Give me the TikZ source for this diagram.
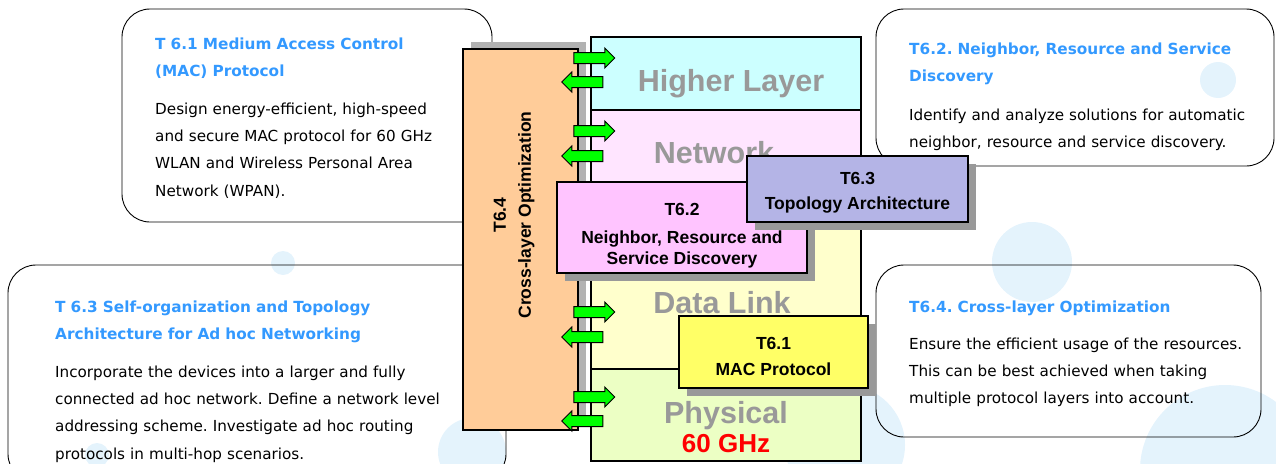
\documentclass[tikz,border=0pt]{standalone}
\usepackage{fontspec}
\setmainfont{Liberation Sans}
\newfontfamily\calloutfont{DejaVu Sans}
\usetikzlibrary{shapes.arrows,shadows}
\frenchspacing

\definecolor{titleblue}{RGB}{51,153,255}
\definecolor{bubble}{RGB}{228,243,252}
\definecolor{higherfill}{RGB}{204,255,255}
\definecolor{networkfill}{RGB}{255,229,255}
\definecolor{datalinkfill}{RGB}{255,255,204}
\definecolor{physicalfill}{RGB}{236,255,196}
\definecolor{discpink}{RGB}{255,196,255}
\definecolor{topolilac}{RGB}{180,180,230}
\definecolor{macyellow}{RGB}{255,255,102}
\definecolor{crossorange}{RGB}{255,204,153}
\definecolor{shadowgray}{RGB}{153,153,153}
\definecolor{bargray}{RGB}{178,178,178}
\definecolor{arrowgreen}{RGB}{0,255,0}
\definecolor{layergray}{RGB}{153,153,153}
\definecolor{ghzred}{RGB}{255,0,0}

\newcommand{\tasktop}[1]{\rule{0pt}{#1}}

\tikzset{
  callout/.style={draw, line width=0.9pt, rounded corners=28pt},
  cotitle/.style={anchor=base west, inner sep=0pt, text width=460pt, align=left, text=titleblue,
    font=\calloutfont\bfseries\fontsize{15.3}{27}\selectfont},
  cobody/.style={anchor=base west, inner sep=0pt, text width=460pt, align=left,
    font=\calloutfont\fontsize{15.2}{27.2}\selectfont},
  layer/.style={draw, line width=1.2pt, inner sep=0pt},
  layerlabel/.style={anchor=base, inner sep=0pt, text=layergray, font=\bfseries\fontsize{30.5}{30}\selectfont},
  taskbox/.style={draw, line width=1.2pt, align=center, inner sep=0pt, font=\bfseries\fontsize{17.5}{21}\selectfont},
  shadowed/.style={drop shadow={shadow xshift=8pt, shadow yshift=-8pt, fill=shadowgray, opacity=1}},
  toarrow/.style={single arrow, draw, fill=arrowgreen, line width=1pt, inner xsep=0pt, inner ysep=5pt,
    minimum height=41pt, minimum width=19pt, single arrow head extend=4.5pt, single arrow head indent=0pt},
  fromarrow/.style={toarrow, shape border rotate=180}
}

\begin{document}
\begin{tikzpicture}[x=1pt, y=-1pt]
\useasboundingbox (0,0) rectangle (1276,463);
\foreach \cx/\cy/\r in {1218/80/18, 283/263/12, 97/455/12, 472/452/34, 1032/262/40, 1225/470/85, 845/445/60}
  \fill[bubble] (\cx,\cy) circle (\r pt);

\draw[callout] (122,9) rectangle (492,222);
\node[cotitle] (macttl) at (155,49.5) {T 6.1 Medium Access Control\\(MAC) Protocol};
\node[cobody] (macdesc) at (155,114.5) {Design energy-efficient, high-speed\\and secure MAC protocol for 60 GHz\\WLAN and Wireless Personal Area\\Network (WPAN).};

\draw[callout] (876,9) rectangle (1274,166);
\node[cotitle] (discttl) at (909,54.5) {T6.2. Neighbor, Resource and Service\\Discovery};
\node[cobody] (discdesc) at (909,120.5) {Identify and analyze solutions for automatic\\neighbor, resource and service discovery.};

\draw[callout] (8,265) rectangle (506,482);
\node[cotitle] (topottl) at (55,312.5) {T 6.3 Self-organization and Topology\\Architecture for Ad hoc Networking};
\node[cobody] (topodesc) at (55,377.5) {Incorporate the devices into a larger and fully\\connected ad hoc network. Define a network level\\addressing scheme. Investigate ad hoc routing\\protocols in multi-hop scenarios.};

\draw[callout] (876,265) rectangle (1261,437);
\node[cotitle] (crossttl) at (909,312) {T6.4. Cross-layer Optimization};
\node[cobody] (crossdesc) at (909,349.5) {Ensure the efficient usage of the resources.\\This can be best achieved when taking\\multiple protocol layers into account.};

\node[taskbox, fill=crossorange, minimum width=115pt, minimum height=381pt,
  drop shadow={shadow xshift=8pt, shadow yshift=7pt, fill=bargray, opacity=1}] (cross) at (520.5,239.5) {};
\node[taskbox, draw=none, rotate=90, font=\bfseries\fontsize{17.5}{25}\selectfont] (crosslbl) at (514,215) {T6.4\\Cross-layer Optimization};

\node[layer, fill=higherfill, minimum width=270pt, minimum height=73pt] (higher) at (726,73.5) {};
\node[layer, fill=networkfill, minimum width=270pt, minimum height=105pt] (network) at (726,162.5) {};
\node[layer, fill=datalinkfill, minimum width=270pt, minimum height=154pt] (datalink) at (726,292) {};
\node[layer, fill=physicalfill, minimum width=270pt, minimum height=92pt] (physical) at (726,415) {};

\foreach \y [count=\i] in {58,131,312,397}
  \node[toarrow] (to\i) at (591.5,\y) {};
\foreach \y [count=\i] in {82,156,337,421}
  \node[fromarrow] (from\i) at (585,\y) {};

\node[layerlabel] (higherlbl) at (731,91) {Higher Layer};
\node[layerlabel] (networklbl) at (714,163) {Network};
\node[layerlabel] (datalinklbl) at (722,313) {Data Link};
\node[layerlabel] (physicallbl) at (726,423) {Physical};
\node[anchor=base, inner sep=0pt, text=ghzred, font=\bfseries\fontsize{26}{26}\selectfont] (ghz) at (726,452) {60 GHz};

\node[taskbox, shadowed, fill=discpink, minimum width=250pt, minimum height=91pt] (disc) at (682,227.5) {\tasktop{28pt}T6.2\\[7pt]Neighbor, Resource and\\Service Discovery};
\node[taskbox, shadowed, fill=topolilac, minimum width=221pt, minimum height=66pt] (topo) at (857.5,189) {\tasktop{20.5pt}T6.3\\[4pt]Topology Architecture};
\node[taskbox, shadowed, fill=macyellow, minimum width=189pt, minimum height=72pt] (mac) at (773.5,352) {\tasktop{21pt}T6.1\\[5pt]MAC Protocol};
\end{tikzpicture}
\end{document}
